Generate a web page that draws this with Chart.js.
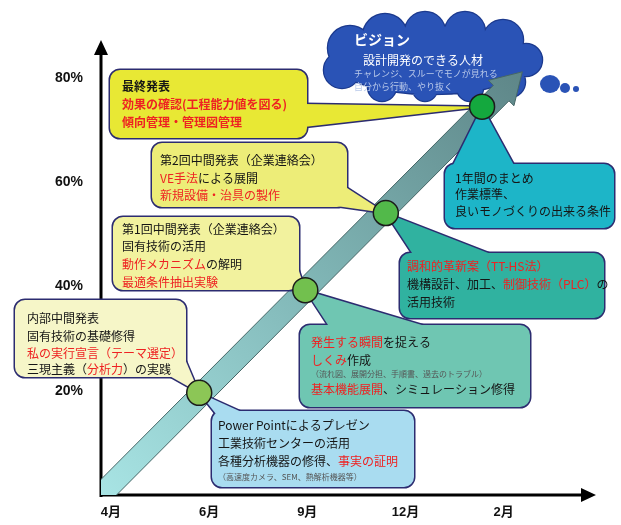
<!DOCTYPE html>
<html lang="ja">
<head>
<meta charset="utf-8">
<title>1年間の取り組みロードマップ</title>
<script src="https://cdn.jsdelivr.net/npm/chart.js@4.4.1/dist/chart.umd.min.js"></script>
<style>
  html, body { margin: 0; padding: 0; background: #ffffff; }
  #wrap { width: 621px; height: 525px; }
</style>
</head>
<body>
<div id="wrap"><canvas id="roadmap" width="621" height="525"></canvas></div>
<script>
// x axis: months (as category index), y axis: achievement level in %
const monthLabels = ['4月', '6月', '9月', '12月', '2月'];
const percentTicks = [20, 40, 60, 80];

// the big progress arrow (start -> tip)
const progressX = [-0.1, 4.19];
const progressY = [0, 81.2];

// milestones sitting on the arrow
const milestoneX = [0.90, 1.98, 2.80, 3.78];
const milestoneY = [19.6, 39.3, 54.1, 74.5];
const milestoneColors = ['#8cc656', '#72c04e', '#52b94a', '#14a83e'];

const JP = '"Noto Sans CJK JP", "Noto Sans", sans-serif';
const RED = '#ee2222', BLK = '#151515', GRY = '#555555';

// callout texts: [text, color, small font size]
const callouts = [
  { box: [15, 300, 171, 77], fill: '#f6f6c8', base: [[182, 352], [166, 374]], to: 0,
    x: 27, ys: [318, 336, 353, 369],
    lines: [[['内部中間発表', BLK]], [['固有技術の基礎修得', BLK]],
            [['私の実行宣言（テーマ選定）', RED]],
            [['三現主義（', BLK], ['分析力', RED], ['）の実践', BLK]]] },
  { box: [113, 217, 186, 73], fill: '#f2f29e', base: [[296, 262], [286, 287]], to: 1,
    x: 122, ys: [229, 246, 264, 282],
    lines: [[['第1回中間発表（企業連絡会）', BLK]], [['固有技術の活用', BLK]],
            [['動作メカニズム', RED], ['の解明', BLK]], [['最適条件抽出実験', RED]]] },
  { box: [152, 143, 195, 64], fill: '#eded78', base: [[344, 186], [322, 204]], to: 2,
    x: 160, ys: [160, 178, 195],
    lines: [[['第2回中間発表（企業連絡会）', BLK]], [['VE手法', RED], ['による展開', BLK]],
            [['新規設備・治具の製作', RED]]] },
  { box: [110, 70, 197, 68], fill: '#e8e834', base: [[304, 104], [304, 127]], to: 3, bold: true,
    x: 122, ys: [86, 104, 122],
    lines: [[['最終発表', BLK]], [['効果の確認(工程能力値を図る)', RED]],
            [['傾向管理・管理図管理', RED]]] },
  { box: [212, 411, 202, 76], fill: '#a9dcf0', base: [[216, 414], [246, 414]], to: 0,
    x: 218, ys: [425, 443, 461, 477],
    lines: [[['Power Pointによるプレゼン', BLK]], [['工業技術センターの活用', BLK]],
            [['各種分析機器の修得、', BLK], ['事実の証明', RED]],
            [['（高速度カメラ、SEM、熱解析機器等）', GRY, 8]]] },
  { box: [300, 325, 230, 82], fill: '#6fc6b2', base: [[330, 328], [432, 328]], to: 1,
    x: 311, ys: [342, 360, 374, 389],
    lines: [[['発生する瞬間', RED], ['を捉える', BLK]], [['しくみ', RED], ['作成', BLK]],
            [['（流れ図、展開分担、手順書、過去のトラブル）', GRY, 8]],
            [['基本機能展開', RED], ['、シミュレーション修得', BLK]]] },
  { box: [400, 253, 204, 65], fill: '#30b2a0', base: [[414, 256], [496, 256]], to: 2,
    x: 407, ys: [266, 284, 302],
    lines: [[['調和的革新案（TT-HS法）', RED]],
            [['機構設計、加工、', BLK], ['制御技術（PLC）', RED], ['の', BLK]],
            [['活用技術', BLK]]] },
  { box: [445, 164, 169, 64], fill: '#1db5c8', base: [[452, 167], [515, 167]], to: 3,
    x: 455, ys: [178, 194, 211],
    lines: [[['1年間のまとめ', BLK]], [['作業標準、', BLK]], [['良いモノづくりの出来る条件', BLK]]] }
];

function roundRect(ctx, x, y, w, h, r) {
  ctx.beginPath();
  ctx.moveTo(x + r, y);
  ctx.arcTo(x + w, y, x + w, y + h, r);
  ctx.arcTo(x + w, y + h, x, y + h, r);
  ctx.arcTo(x, y + h, x, y, r);
  ctx.arcTo(x, y, x + w, y, r);
  ctx.closePath();
}

function drawCallout(ctx, c, tip) {
  const [x, y, w, h] = c.box;
  const tail = () => {
    ctx.beginPath();
    ctx.moveTo(c.base[0][0], c.base[0][1]);
    ctx.lineTo(tip.x, tip.y);
    ctx.lineTo(c.base[1][0], c.base[1][1]);
    ctx.closePath();
  };
  // stroke wide first, fill afterwards -> merged outline
  ctx.lineWidth = 3;
  ctx.strokeStyle = '#2c2c70';
  tail(); ctx.stroke();
  roundRect(ctx, x, y, w, h, 10); ctx.stroke();
  ctx.fillStyle = c.fill;
  tail(); ctx.fill();
  roundRect(ctx, x, y, w, h, 10); ctx.fill();

  ctx.textBaseline = 'middle';
  ctx.textAlign = 'left';
  c.lines.forEach((segs, i) => {
    let tx = c.x;
    segs.forEach(([t, col, small]) => {
      ctx.font = small ? small + 'px ' + JP : (c.bold ? 'bold ' : '') + '12px ' + JP;
      ctx.fillStyle = col;
      ctx.fillText(t, tx, c.ys[i]);
      tx += ctx.measureText(t).width;
    });
  });
}

function drawCloud(ctx) {
  const bumps = [[350, 48, 22], [385, 36, 22], [425, 32, 20], [465, 32, 20], [503, 40, 20],
                 [526, 60, 16], [510, 82, 15], [470, 88, 13], [425, 89, 12], [382, 87, 14], [342, 70, 18]];
  const shape = () => {
    ctx.beginPath();
    ctx.ellipse(432, 60, 98, 34, 0, 0, Math.PI * 2);
    bumps.forEach(([bx, by, r]) => { ctx.moveTo(bx + r, by); ctx.arc(bx, by, r, 0, Math.PI * 2); });
  };
  ctx.lineWidth = 2.5;
  ctx.strokeStyle = '#1c3a8e';
  shape(); ctx.stroke();
  ctx.fillStyle = '#2a53b6';
  shape(); ctx.fill();
  // thought bubbles
  [[550, 84, 10, 9], [565, 88, 5, 5], [576, 89, 3, 3]].forEach(([bx, by, rx, ry]) => {
    ctx.beginPath();
    ctx.ellipse(bx, by, rx, ry, 0, 0, Math.PI * 2);
    ctx.fill();
  });
  ctx.textBaseline = 'middle';
  ctx.fillStyle = '#ffffff';
  ctx.font = 'bold 14px ' + JP;
  ctx.fillText('ビジョン', 354, 40);
  ctx.font = '12px ' + JP;
  ctx.fillText('設計開発のできる人材', 363, 60);
  ctx.fillStyle = '#b9c9ea';
  ctx.font = '9px ' + JP;
  ctx.fillText('チャレンジ、スルーでモノが見れる', 354, 74);
  ctx.fillText('自分から行動、やり抜く', 354, 87);
}

function drawAxes(ctx, area) {
  ctx.strokeStyle = '#000';
  ctx.fillStyle = '#000';
  ctx.lineWidth = 3;
  ctx.beginPath();
  ctx.moveTo(area.left, area.bottom + 2);
  ctx.lineTo(area.left, area.top + 12);
  ctx.moveTo(area.left - 1.5, area.bottom);
  ctx.lineTo(area.right - 12, area.bottom);
  ctx.stroke();
  ctx.beginPath();
  ctx.moveTo(area.left, area.top);
  ctx.lineTo(area.left - 7, area.top + 15);
  ctx.lineTo(area.left + 7, area.top + 15);
  ctx.closePath();
  ctx.moveTo(area.right, area.bottom);
  ctx.lineTo(area.right - 15, area.bottom - 7);
  ctx.lineTo(area.right - 15, area.bottom + 7);
  ctx.closePath();
  ctx.fill();
}

function drawProgressArrow(ctx, p0, p1, area) {
  const dx = p1.x - p0.x, dy = p1.y - p0.y;
  const len = Math.hypot(dx, dy);
  const ux = dx / len, uy = dy / len, nx = -uy, ny = ux;
  const w = 11, hw = 18, hl = 30;
  const bx = p1.x - ux * hl, by = p1.y - uy * hl;
  const grad = ctx.createLinearGradient(p0.x, p0.y, p1.x, p1.y);
  grad.addColorStop(0, '#a8e4e4');
  grad.addColorStop(0.5, '#80b6b6');
  grad.addColorStop(1, '#5e8688');
  ctx.save();
  ctx.beginPath();
  ctx.rect(area.left, 0, area.right - area.left, area.bottom);
  ctx.clip();
  ctx.beginPath();
  ctx.moveTo(p0.x + nx * w, p0.y + ny * w);
  ctx.lineTo(bx + nx * w, by + ny * w);
  ctx.lineTo(bx + nx * hw, by + ny * hw);
  ctx.lineTo(p1.x, p1.y);
  ctx.lineTo(bx - nx * hw, by - ny * hw);
  ctx.lineTo(bx - nx * w, by - ny * w);
  ctx.lineTo(p0.x - nx * w, p0.y - ny * w);
  ctx.closePath();
  ctx.fillStyle = grad;
  ctx.fill();
  ctx.lineWidth = 1;
  ctx.strokeStyle = '#456666';
  ctx.stroke();
  ctx.restore();
}

const roadmapPlugin = {
  id: 'roadmap',
  beforeDatasetsDraw(chart) {
    const ctx = chart.ctx;
    const area = chart.chartArea;
    const arrowPts = chart.getDatasetMeta(0).data;
    const stones = chart.getDatasetMeta(1).data;
    ctx.save();
    drawCloud(ctx);
    drawAxes(ctx, area);
    drawProgressArrow(ctx, arrowPts[0], arrowPts[1], area);
    callouts.forEach(c => drawCallout(ctx, c, stones[c.to]));
    ctx.restore();
  }
};

const tickFont = { family: '"Liberation Sans", "Noto Sans CJK JP", sans-serif', size: 13, weight: 'bold' };

new Chart(document.getElementById('roadmap'), {
  type: 'scatter',
  data: {
    datasets: [
      {
        label: 'progress',
        data: progressX.map((x, i) => ({ x: x, y: progressY[i] })),
        pointRadius: 0,
        showLine: false
      },
      {
        label: 'milestones',
        data: milestoneX.map((x, i) => ({ x: x, y: milestoneY[i] })),
        pointRadius: 12.5,
        pointBackgroundColor: milestoneColors,
        pointBorderColor: '#1b1b1b',
        pointBorderWidth: 1.5,
        clip: false
      }
    ]
  },
  options: {
    responsive: false,
    animation: false,
    events: [],
    layout: { padding: { top: 40, right: 25, bottom: 0, left: 0 } },
    plugins: { legend: { display: false }, tooltip: { enabled: false } },
    scales: {
      x: {
        type: 'linear',
        min: -0.1,
        max: 4.94,
        afterFit: s => { s.height = 30; },
        afterBuildTicks: s => { s.ticks = monthLabels.map((_, i) => ({ value: i })); },
        grid: { display: false, drawTicks: false },
        border: { display: false },
        ticks: {
          callback: (v, i) => monthLabels[i],
          font: tickFont, color: '#111', padding: 10, maxRotation: 0, autoSkip: false
        }
      },
      y: {
        type: 'linear',
        min: 0,
        max: 87.3,
        afterFit: s => { s.width = 101; },
        afterBuildTicks: s => { s.ticks = percentTicks.map(v => ({ value: v })); },
        grid: { display: false, drawTicks: false },
        border: { display: false },
        ticks: {
          callback: v => v + '%',
          font: { family: tickFont.family, size: 14, weight: 'bold' }, color: '#111', padding: 18
        }
      }
    }
  },
  plugins: [roadmapPlugin]
});
</script>
</body>
</html>
